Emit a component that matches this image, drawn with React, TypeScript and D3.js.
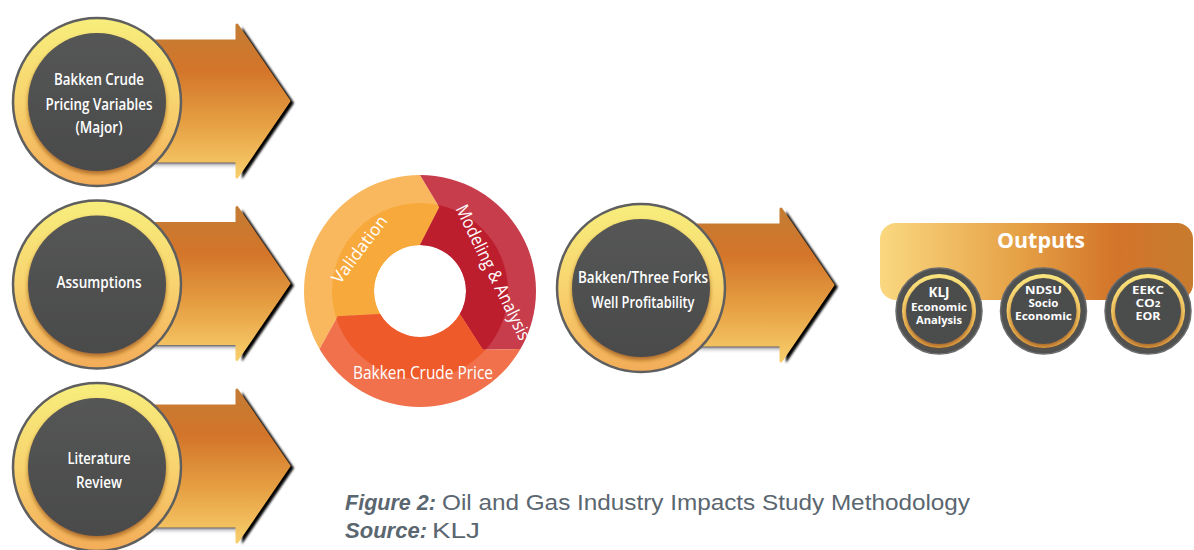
import React from "react";
import * as d3 from "d3";

// ---- content ----
const inputLabels: string[][] = [
  ["Bakken Crude", "Pricing Variables", "(Major)"],
  ["Assumptions"],
  ["Literature", "Review"],
];
const cycleLabels: string[] = ["Validation", "Modeling & Analysis", "Bakken Crude Price"];
const profitLabels: string[] = ["Bakken/Three Forks", "Well Profitability"];
const outputsTitle = "Outputs";
const outputLabels: string[][] = [
  ["KLJ", "Economic", "Analysis"],
  ["NDSU", "Socio", "Economic"],
  ["EEKC", "CO2", "EOR"],
];
const captionBold: string[] = ["Figure 2:", "Source:"];
const captionText: string[] = ["Oil and Gas Industry Impacts Study Methodology", "KLJ"];

// ---- layout ----
const W = 1194;
const H = 550;
const FONT = "'Open Sans', 'Noto Sans', sans-serif";
const textWidth: Record<string, number> = {
  "Bakken Crude": 90,
  "Pricing Variables": 107,
  "(Major)": 47,
  Assumptions: 85,
  Literature: 63,
  Review: 46,
  "Bakken/Three Forks": 130,
  "Well Profitability": 103,
  Validation: 80,
  "Modeling & Analysis": 148,
  "Bakken Crude Price": 140,
  Outputs: 88,
};
const outWidths: number[][] = [
  [21, 56, 46],
  [37, 30, 57],
  [32, 25, 25],
];

const rowY = d3.scalePoint<string>().domain(inputLabels.map((d) => d.join(" "))).range([102, 467]);
const outX = d3.scalePoint<string>().domain(outputLabels.map((d) => d.join(" "))).range([939, 1148]);

const BODY = 60;
const HEAD = 76;
const HEAD_X = 140;
const TIP_X = 192;

function arrowPath(cx: number, cy: number): string {
  const p = d3.path();
  p.moveTo(cx, cy - BODY);
  p.lineTo(cx + HEAD_X, cy - BODY);
  p.lineTo(cx + HEAD_X, cy - HEAD);
  p.lineTo(cx + TIP_X, cy);
  p.lineTo(cx + HEAD_X, cy + HEAD);
  p.lineTo(cx + HEAD_X, cy + BODY);
  p.lineTo(cx, cy + BODY);
  p.closePath();
  return p.toString();
}

function Arrow({ cx, cy }: { cx: number; cy: number }) {
  const d = arrowPath(cx, cy);
  return (
    <g>
      <path d={d} transform="translate(5,2)" fill="#000" filter="url(#blur1)" />
      <rect x={cx + 40} y={cy + BODY} width={HEAD_X - 40} height={9} fill="url(#underShadow)" />
      <path d={d} fill="url(#arrowGrad)" stroke="url(#arrowGrad)" strokeWidth={3} strokeLinejoin="round" />
    </g>
  );
}

function BigCircle({ cx, cy, lines, baselines }: { cx: number; cy: number; lines: string[]; baselines: number[] }) {
  return (
    <g>
      <circle cx={cx} cy={cy} r={84} fill="url(#ringGrad)" stroke="#5f5f5f" strokeWidth={2.5} />
      <circle cx={cx} cy={cy} r={69} fill="url(#darkGrad)" filter="url(#innerShadow)" />
      {lines.map((t, i) => (
        <text
          key={t}
          x={cx + 2}
          y={baselines[i]}
          textAnchor="middle"
          fill="#fff"
          fontFamily={FONT}
          fontWeight={600}
          fontSize={17}
          textLength={textWidth[t]}
          lengthAdjust="spacingAndGlyphs"
        >
          {t}
        </text>
      ))}
    </g>
  );
}

// ring geometry
const RC = { x: 420, y: 291 };
const R_OUT = 116;
const R_IN = 46;
const R_MID = 88;
const TIP = (13 * Math.PI) / 180;
const segColors = [
  { outer: "#f9b85e", inner: "#f8a93c" },
  { outer: "#c73d4c", inner: "#bd1e2e" },
  { outer: "#f0714b", inner: "#ef5a2a" },
];
const polar = (a: number, r: number): [number, number] => [RC.x + r * Math.sin(a), RC.y - r * Math.cos(a)];

function segmentPath(s: number, e: number): string {
  const p = d3.path();
  const o0 = polar(s, R_OUT);
  p.moveTo(o0[0], o0[1]);
  p.arc(RC.x, RC.y, R_OUT, s - Math.PI / 2, e - Math.PI / 2, false);
  const t = polar(e + TIP, R_MID - 2);
  p.lineTo(t[0], t[1]);
  const i1 = polar(e, R_IN);
  p.lineTo(i1[0], i1[1]);
  p.arc(RC.x, RC.y, R_IN, e - Math.PI / 2, s - Math.PI / 2, true);
  const n = polar(s + TIP, R_MID - 2);
  p.lineTo(n[0], n[1]);
  p.closePath();
  return p.toString();
}

const segmentAngles = [
  { s: (240 * Math.PI) / 180, e: (360 * Math.PI) / 180 },
  { s: 0, e: (120 * Math.PI) / 180 },
  { s: (120 * Math.PI) / 180, e: (240 * Math.PI) / 180 },
];
const ringText = [
  { x: 359, y: 249, rot: -53, size: 17 },
  { x: 494, y: 272, rot: 64, size: 18 },
  { x: 423, y: 372, rot: 0, size: 18 },
];

export default function App() {
  return (
    <svg
      width={W}
      height={H}
      viewBox={`0 0 ${W} ${H}`}
      style={{ position: "absolute", left: 0, top: 0, background: "#fff" }}
    >
      <defs>
        <linearGradient id="arrowGrad" x1="0" y1="0" x2="0" y2="1">
          <stop offset="0" stopColor="#c47c34" />
          <stop offset="0.3" stopColor="#d3752a" />
          <stop offset="0.65" stopColor="#e6a043" />
          <stop offset="1" stopColor="#f8ce6c" />
        </linearGradient>
        <linearGradient id="underShadow" x1="0" y1="0" x2="0" y2="1">
          <stop offset="0" stopColor="#4a4a55" stopOpacity={0.85} />
          <stop offset="1" stopColor="#ffffff" stopOpacity={0} />
        </linearGradient>
        <linearGradient id="ringGrad" x1="0" y1="0" x2="0" y2="1">
          <stop offset="0" stopColor="#f7ee7c" />
          <stop offset="0.5" stopColor="#f8d36f" />
          <stop offset="1" stopColor="#f3ac58" />
        </linearGradient>
        <linearGradient id="darkGrad" x1="0" y1="0" x2="0" y2="1">
          <stop offset="0" stopColor="#555656" />
          <stop offset="1" stopColor="#4a4b4b" />
        </linearGradient>
        <linearGradient id="panelGrad" x1="0" y1="0" x2="1" y2="0">
          <stop offset="0" stopColor="#fad880" />
          <stop offset="0.45" stopColor="#e5a045" />
          <stop offset="0.75" stopColor="#d3752a" />
          <stop offset="1" stopColor="#c77b2e" />
        </linearGradient>
        <linearGradient id="smallRing" x1="0" y1="0" x2="0" y2="1">
          <stop offset="0" stopColor="#fae67e" />
          <stop offset="1" stopColor="#f2ae50" />
        </linearGradient>
        <filter id="blur1" x="-10%" y="-10%" width="120%" height="120%">
          <feGaussianBlur stdDeviation={0.8} />
        </filter>
        <filter id="innerShadow" x="-20%" y="-20%" width="140%" height="140%">
          <feDropShadow dx={0} dy={3} stdDeviation={2} floodColor="#8a4c12" floodOpacity={0.7} />
        </filter>
        <clipPath id="midClip">
          <circle cx={RC.x} cy={RC.y} r={R_MID} />
        </clipPath>
      </defs>

      {/* input arrows */}
      {inputLabels.map((lines) => {
        const cy = rowY(lines.join(" "))!;
        return <Arrow key={lines.join()} cx={97} cy={cy - 1} />;
      })}
      {inputLabels.map((lines, i) => {
        const cy = rowY(lines.join(" "))!;
        const base = [[85, 110, 133], [288], [464, 488]][i];
        return <BigCircle key={lines.join()} cx={97} cy={cy} lines={lines} baselines={base} />;
      })}

      {/* cycle ring */}
      {segmentAngles.map((a, i) => (
        <g key={cycleLabels[i]}>
          <path d={segmentPath(a.s, a.e)} fill={segColors[i].outer} />
          <path d={segmentPath(a.s, a.e)} fill={segColors[i].inner} clipPath="url(#midClip)" />
        </g>
      ))}
      {cycleLabels.map((t, i) => (
        <text
          key={t}
          transform={`translate(${ringText[i].x},${ringText[i].y}) rotate(${ringText[i].rot})`}
          textAnchor="middle"
          dominantBaseline="central"
          fill="#fff"
          fontFamily={FONT}
          fontSize={ringText[i].size}
          textLength={textWidth[t]}
          lengthAdjust="spacingAndGlyphs"
        >
          {t}
        </text>
      ))}

      {/* profitability */}
      <Arrow cx={641} cy={285} />
      <BigCircle cx={641} cy={288} lines={profitLabels} baselines={[283, 308]} />

      {/* outputs */}
      <rect x={880} y={223} width={313} height={77} rx={16} fill="url(#panelGrad)" />
      <text
        x={1041}
        y={248}
        textAnchor="middle"
        fill="#fff"
        fontFamily={FONT}
        fontWeight={700}
        fontSize={22}
        textLength={textWidth[outputsTitle]}
        lengthAdjust="spacingAndGlyphs"
      >
        {outputsTitle}
      </text>
      {outputLabels.map((lines, i) => {
        const cx = outX(lines.join(" "))!;
        const cy = 311;
        const base = i === 0 ? [297, 311, 324] : [294, 307, 320];
        const sizes = i === 0 ? [14, 11, 11] : [11, 11, 11];
        return (
          <g key={lines.join()}>
            <circle cx={cx} cy={cy} r={43} fill="#505151" stroke="#6c6c6c" strokeWidth={1.5} />
            <circle cx={cx} cy={cy} r={37} fill="url(#smallRing)" />
            <circle cx={cx} cy={cy} r={33} fill="#4c4d4d" filter="url(#innerShadow)" />
            {lines.map((t, j) => (
              <text
                key={j}
                x={cx}
                y={base[j]}
                textAnchor="middle"
                fill="#fff"
                fontFamily={FONT}
                fontWeight={700}
                fontSize={sizes[j]}
                textLength={outWidths[i][j]}
                lengthAdjust="spacingAndGlyphs"
              >
                {t === "CO2" ? (
                  <>
                    CO<tspan fontSize={8}>2</tspan>
                  </>
                ) : (
                  t
                )}
              </text>
            ))}
          </g>
        );
      })}

      {/* caption */}
      {captionBold.map((b, i) => {
        const y = 510 + i * 28;
        return (
          <g key={b}>
            <text
              x={345}
              y={y}
              fill="#5a6670"
              fontFamily="'Liberation Sans', Arial, sans-serif"
              fontWeight={700}
              fontStyle="italic"
              fontSize={22}
              textLength={i === 0 ? 91 : 82}
              lengthAdjust="spacingAndGlyphs"
            >
              {b}
            </text>
            <text
              x={i === 0 ? 442 : 432}
              y={y}
              fill="#5a6670"
              fontFamily="'Liberation Sans', Arial, sans-serif"
              fontSize={22}
              textLength={i === 0 ? 528 : 48}
              lengthAdjust="spacingAndGlyphs"
            >
              {captionText[i]}
            </text>
          </g>
        );
      })}
    </svg>
  );
}
